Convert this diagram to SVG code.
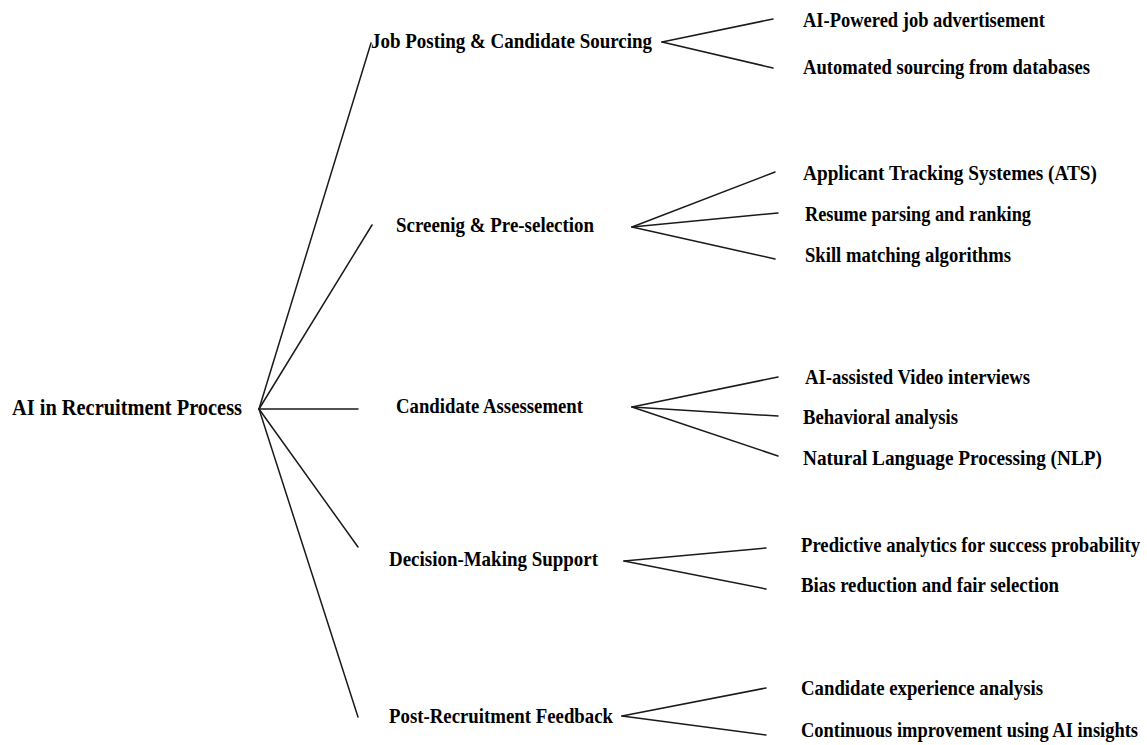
<svg xmlns="http://www.w3.org/2000/svg" width="1147" height="745" viewBox="0 0 1147 745">
<style>
text{font-family:"Liberation Serif","Times New Roman",serif;font-weight:bold;fill:#000;font-size:22px}
.root{font-size:24px}
.c line{stroke:#1a1a1a;stroke-width:1.5;stroke-linecap:round}
</style>
<rect width="1147" height="745" fill="#fff"/>
<g class="c" id="connectors">
<line x1="259" y1="409" x2="371" y2="43"/>
<line x1="259" y1="409" x2="372" y2="225"/>
<line x1="259" y1="409" x2="358" y2="409"/>
<line x1="259" y1="409" x2="358" y2="547"/>
<line x1="259" y1="409" x2="358" y2="717"/>
<line x1="662" y1="42" x2="773" y2="19"/>
<line x1="662" y1="42" x2="773" y2="68"/>
<line x1="632" y1="227" x2="775" y2="172"/>
<line x1="632" y1="227" x2="778" y2="213"/>
<line x1="632" y1="227" x2="775" y2="259"/>
<line x1="632" y1="407" x2="778" y2="377"/>
<line x1="632" y1="407" x2="778" y2="416"/>
<line x1="632" y1="407" x2="778" y2="456"/>
<line x1="624" y1="561" x2="766" y2="548"/>
<line x1="624" y1="561" x2="766" y2="589"/>
<line x1="622" y1="716" x2="766" y2="688"/>
<line x1="622" y1="716" x2="766" y2="735"/>
</g>
<g id="root"><text class="root" x="12" y="415" textLength="230" lengthAdjust="spacingAndGlyphs">AI in Recruitment Process</text></g>
<g id="job"><text x="371" y="48" textLength="281" lengthAdjust="spacingAndGlyphs">Job Posting &amp; Candidate Sourcing</text></g>
<g id="screen"><text x="396" y="232" textLength="198" lengthAdjust="spacingAndGlyphs">Screenig &amp; Pre-selection</text></g>
<g id="assess"><text x="396" y="413" textLength="187" lengthAdjust="spacingAndGlyphs">Candidate Assessement</text></g>
<g id="decision"><text x="389" y="566" textLength="209" lengthAdjust="spacingAndGlyphs">Decision-Making Support</text></g>
<g id="post"><text x="389" y="723" textLength="224" lengthAdjust="spacingAndGlyphs">Post-Recruitment Feedback</text></g>
<g id="job-1"><text x="803" y="27" textLength="242" lengthAdjust="spacingAndGlyphs">AI-Powered job advertisement</text></g>
<g id="job-2"><text x="803" y="74" textLength="287" lengthAdjust="spacingAndGlyphs">Automated sourcing from databases</text></g>
<g id="screen-1"><text x="803" y="180" textLength="294" lengthAdjust="spacingAndGlyphs">Applicant Tracking Systemes (ATS)</text></g>
<g id="screen-2"><text x="805" y="221" textLength="226" lengthAdjust="spacingAndGlyphs">Resume parsing and ranking</text></g>
<g id="screen-3"><text x="805" y="262" textLength="206" lengthAdjust="spacingAndGlyphs">Skill matching algorithms</text></g>
<g id="assess-1"><text x="805" y="384" textLength="225" lengthAdjust="spacingAndGlyphs">AI-assisted Video interviews</text></g>
<g id="assess-2"><text x="803" y="424" textLength="155" lengthAdjust="spacingAndGlyphs">Behavioral analysis</text></g>
<g id="assess-3"><text x="803" y="465" textLength="299" lengthAdjust="spacingAndGlyphs">Natural Language Processing (NLP)</text></g>
<g id="decision-1"><text x="801" y="552" textLength="339" lengthAdjust="spacingAndGlyphs">Predictive analytics for success probability</text></g>
<g id="decision-2"><text x="801" y="592" textLength="258" lengthAdjust="spacingAndGlyphs">Bias reduction and fair selection</text></g>
<g id="post-1"><text x="801" y="695" textLength="242" lengthAdjust="spacingAndGlyphs">Candidate experience analysis</text></g>
<g id="post-2"><text x="801" y="737" textLength="337" lengthAdjust="spacingAndGlyphs">Continuous improvement using AI insights</text></g>
</svg>
